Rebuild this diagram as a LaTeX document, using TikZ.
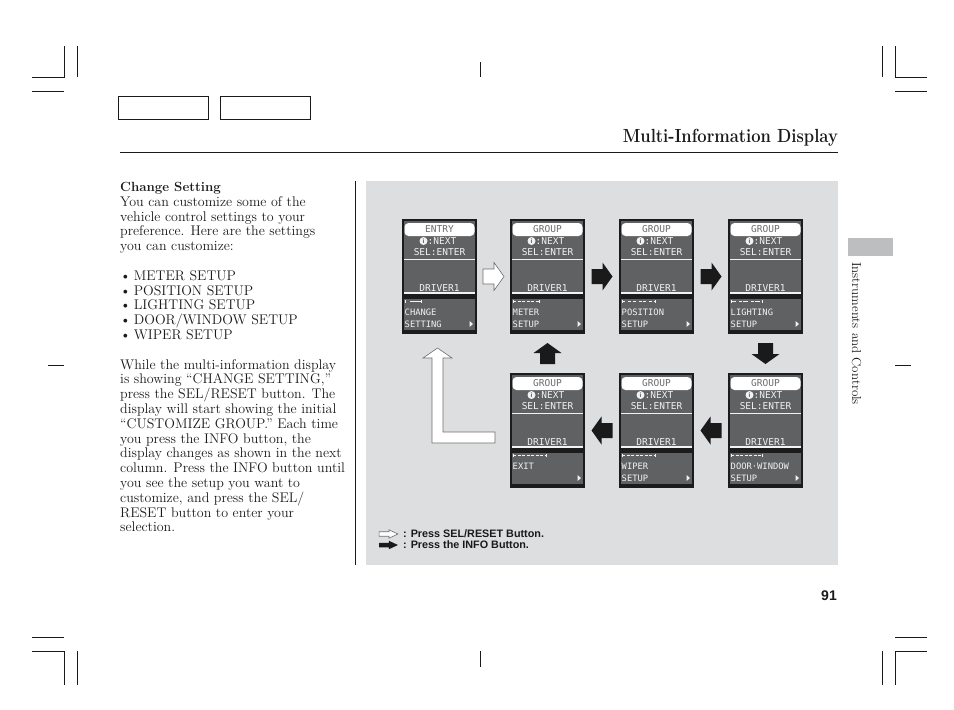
\documentclass[tikz,border=0pt]{standalone}
\usepackage{fontspec}
\newfontfamily\lcdfont{DejaVu Sans Mono}
\newfontfamily\helvfont{Liberation Sans}
\usetikzlibrary{calc,positioning}
\definecolor{ink}{HTML}{1A1A1A}
\definecolor{panel}{HTML}{DDDEE0}
\definecolor{tabgray}{HTML}{BDBEC0}
\definecolor{scrblack}{HTML}{1C1C1C}
\definecolor{scrgray}{HTML}{5F6163}
\definecolor{scrwhite}{HTML}{F2F2F2}
\definecolor{pilltext}{HTML}{6B6B6B}
\definecolor{edgegray}{HTML}{6E6E6E}
\tikzset{
  crop/.style={draw=ink,line width=0.8pt},
  hdrbox/.style={draw=ink,line width=1.2pt,minimum width=90pt,minimum height=23pt,inner sep=0pt},
  scrframe/.style={fill=scrblack,minimum width=75pt,minimum height=115pt,inner sep=0pt},
  pill/.style={fill=white,rounded corners=4pt,minimum width=70pt,minimum height=13pt,
    inner sep=0pt,font=\lcdfont\fontsize{9.5}{10}\selectfont,text=pilltext},
  scrtext/.style={inner sep=0pt,font=\lcdfont\fontsize{9.5}{10}\selectfont,text=scrwhite},
  scrlow/.style={scrtext,font=\lcdfont\fontsize{8.8}{10}\selectfont},
  infoicon/.style={circle,fill=scrwhite,inner sep=0pt,minimum size=8pt,
    font=\helvfont\bfseries\fontsize{6.5}{6.5}\selectfont,text=scrgray},
  scrline/.style={draw=scrwhite,line width=1pt},
  infoarr/.style={fill=ink},
  selarr/.style={fill=white,draw=edgegray,line width=0.6pt},
  body/.style={inner sep=0pt,align=left,font=\fontsize{14}{14.8}\selectfont,text=ink},
  legend/.style={inner sep=0pt,font=\helvfont\bfseries\fontsize{10.8}{10.8}\selectfont,text=ink},
  pics/screen/.style n args={5}{code={
    \node[scrframe] (-frame) at (37.5,57.5) {};
    \fill[scrgray] (2,2) rectangle (73,75);
    \fill[scrgray] (2,80) rectangle (73,111);
    \node[pill] (-title) at (37.5,10.5) {#1};
    \node[infoicon] (-info) at (21.5,22) {i};
    \node[scrtext,anchor=west] (-next) at (25.5,22) {:NEXT};
    \node[scrtext] (-sel) at (37.5,33) {SEL:ENTER};
    \draw[scrline] (2,40.5) -- (73,40.5);
    \node[scrtext] (-drv) at (37.5,69) {DRIVER1};
    \draw[scrline,line width=1.5pt] (2,74) -- (73,74);
    \draw[scrline,line width=0.8pt] (3,81) -- (3,84) (#4,81) -- (#4,84);
    \draw[scrline,line width=0.8pt,dash pattern=#5] (3,82) -- (#4,82);
    \node[scrlow,anchor=west] (-top) at (2.5,93) {#2};
    \node[scrlow,anchor=west] (-bot) at (2.5,105) {#3};
    \fill[scrwhite] (67.5,102) -- (71,105) -- (67.5,108) -- cycle;
  }},
  pics/blockarrow/.style={code={
    \path[#1] (-10.5,-7.5) -- (0.5,-7.5) -- (0.5,-14) -- (10.5,0) -- (0.5,14)
      -- (0.5,7.5) -- (-10.5,7.5) -- cycle;
  }}
}
\begin{document}
\begin{tikzpicture}[x=1pt,y=-1pt]
  \useasboundingbox (0,0) rectangle (954,710);
  % crop marks
  \draw[crop] (32,77) -- (64,77) -- (64,46) (77,46) -- (77,77) (32,91) -- (64,91);
  \draw[crop] (927,77) -- (895,77) -- (895,46) (882,46) -- (882,77) (927,91) -- (895,91);
  \draw[crop] (32,637) -- (64,637) (32,651) -- (64,651) -- (64,685) (77,651) -- (77,685);
  \draw[crop] (927,637) -- (895,637) (927,651) -- (895,651) -- (895,685) (882,651) -- (882,685);
  \draw[crop] (480,62) -- (480,77) (480,651) -- (480,667);
  \draw[crop] (48,365) -- (64,365) (895,365) -- (911,365);
  % header
  \node[hdrbox] (hdr1) at (163.5,108) {};
  \node[hdrbox,right=11pt of hdr1] (hdr2) {};
  \node[inner sep=0pt,anchor=base east,font=\bfseries\fontsize{19}{19}\selectfont,text=ink]
    (title) at (838,142) {\scalebox{0.87}[1]{Multi-Information Display}};
  \draw[ink,line width=1pt] (120,152) -- (838,152);
  \node[fill=tabgray,minimum width=45pt,minimum height=18pt,inner sep=0pt] (tab) at (870.5,247) {};
  \node[inner sep=0pt,rotate=-90,anchor=base west,font=\fontsize{13}{13}\selectfont,text=ink]
    (side) at (852,262) {Instruments and Controls};
  \node[inner sep=0pt,anchor=base east,font=\helvfont\bfseries\fontsize{14}{14}\selectfont,text=ink]
    (pgno) at (837,600) {91};
  % left column
  \node[body,anchor=north west] (txt) at (120,182) {%
    {\fontsize{13.3}{14.8}\selectfont\bfseries Change Setting}\\
    You can customize some of the\\
    vehicle control settings to your\\
    preference. Here are the settings\\
    you can customize:\\[14.8pt]
    \hspace*{0pt}\textbullet\hspace{3pt}METER SETUP\\
    \hspace*{0pt}\textbullet\hspace{3pt}POSITION SETUP\\
    \hspace*{0pt}\textbullet\hspace{3pt}LIGHTING SETUP\\
    \hspace*{0pt}\textbullet\hspace{3pt}DOOR/WINDOW SETUP\\
    \hspace*{0pt}\textbullet\hspace{3pt}WIPER SETUP\\[14.8pt]
    While the multi-information display\\
    is showing ``CHANGE SETTING,''\\
    press the SEL/RESET button. The\\
    display will start showing the initial\\
    ``CUSTOMIZE GROUP.'' Each time\\
    you press the INFO button, the\\
    display changes as shown in the next\\
    column. Press the INFO button until\\
    you see the setup you want to\\
    customize, and press the SEL/\\
    RESET button to enter your\\
    selection.};
  \draw[ink,line width=1pt] (355,181) -- (355,565);
  % display panel
  \fill[panel] (366,181) rectangle (838,565);
  \pic (s1) at (402,219) {screen={ENTRY}{CHANGE}{SETTING}{19}{on 1pt off 4pt on 12pt off 0pt}};
  \pic (s2) at (510,219) {screen={GROUP}{METER}{SETUP}{29}{on 3pt off 1.5pt}};
  \pic (s3) at (619,219) {screen={GROUP}{POSITION}{SETUP}{36}{on 3pt off 3pt on 3pt off 1.5pt}};
  \pic (s4) at (728,219) {screen={GROUP}{LIGHTING}{SETUP}{34}{on 5pt off 3pt on 3pt off 1pt}};
  \pic (s5) at (510,373) {screen={GROUP}{EXIT}{}{36}{on 3pt off 1.5pt}};
  \pic (s6) at (619,373) {screen={GROUP}{WIPER}{SETUP}{36}{on 3pt off 1.5pt}};
  \pic (s7) at (728,373) {screen={GROUP}{DOOR·WINDOW}{SETUP}{34}{on 3pt off 1.5pt}};
  % arrows between screens
  \pic at ($(s1-frame.east)!0.5!(s2-frame.west)$) {blockarrow=selarr};
  \pic at ($(s2-frame.east)!0.5!(s3-frame.west)$) {blockarrow=infoarr};
  \pic at ($(s3-frame.east)!0.5!(s4-frame.west)$) {blockarrow=infoarr};
  \pic[rotate=-90] at ($(s4-frame.south)!0.5!(s7-frame.north)$) {blockarrow=infoarr};
  \pic[rotate=180] at ($(s7-frame.west)!0.5!(s6-frame.east)$) {blockarrow=infoarr};
  \pic[rotate=180] at ($(s6-frame.west)!0.5!(s5-frame.east)$) {blockarrow=infoarr};
  \pic[rotate=90] at ($(s5-frame.north)!0.5!(s2-frame.south)$) {blockarrow=infoarr};
  \path[selarr] (437.5,348) -- (452,358) -- (443,358) -- (443,432) -- (495,432)
    -- (495,443) -- (432,443) -- (432,358) -- (423,358) -- cycle;
  % legend
  \pic[xscale=0.9,yscale=0.3] at (388.5,534) {blockarrow=selarr};
  \pic[xscale=0.9,yscale=0.3] at (388.5,545) {blockarrow=infoarr};
  \node[legend,anchor=west] (leg1) at (403,534) {: Press SEL/RESET Button.};
  \node[legend,anchor=west] (leg2) at (403,545) {: Press the INFO Button.};
\end{tikzpicture}
\end{document}
